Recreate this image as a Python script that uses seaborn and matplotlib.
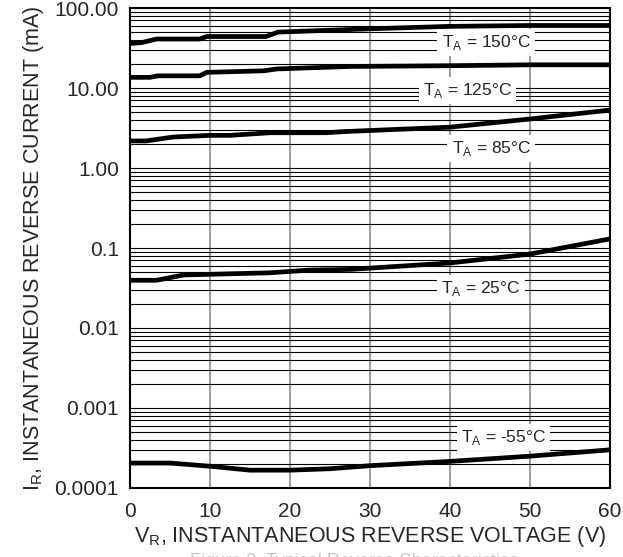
import numpy as np
import pandas as pd
import seaborn as sns
from matplotlib import pyplot as plt
from matplotlib.ticker import FixedLocator, LogLocator, NullFormatter

# Reverse current curves (V in volts, I in mA)
v_150 = [0, 1.5, 3.3, 8.7, 9.6, 17, 18.5, 30, 40, 50, 60]
i_150 = [36, 37, 41, 41, 44, 44, 50, 55, 59, 60.5, 60.5]

v_125 = [0, 2.5, 3.5, 8.7, 9.6, 16.7, 18.3, 27.5, 40, 50, 60]
i_125 = [13.6, 13.6, 14.2, 14.2, 15.7, 16.4, 17.3, 18.6, 19, 19.5, 19.5]

v_85 = [0, 2, 5.4, 10, 12.5, 17.5, 24.5, 27, 40, 50, 60]
i_85 = [2.18, 2.18, 2.44, 2.56, 2.56, 2.76, 2.76, 2.86, 3.24, 4.1, 5.3]

v_25 = [0, 3.3, 6.7, 17.5, 22.5, 27.5, 40, 50, 60]
i_25 = [0.0395, 0.0395, 0.046, 0.049, 0.053, 0.054, 0.065, 0.084, 0.13]

v_m55 = [0, 5, 10, 15, 20, 25, 30, 40, 50, 60]
i_m55 = [0.000205, 0.000205, 0.000187, 0.000167, 0.000167, 0.000174,
         0.00019, 0.000215, 0.00025, 0.0003]

curve_names = ["150", "125", "85", "25", "-55"]
curve_v = [v_150, v_125, v_85, v_25, v_m55]
curve_i = [i_150, i_125, i_85, i_25, i_m55]

# label text anchors (left, baseline) in data coords
label_v = [38.96, 36.67, 40.2, 38.9, 41.4]
label_i = [32.8, 8.18, 1.53, 0.0272, 0.000379]

y_ticks = [100, 10, 1, 0.1, 0.01, 0.001, 0.0001]
y_ticklabels = ["100.00", "10.00", "1.00", "0.1", "0.01", "0.001", "0.0001"]
x_ticks = [0, 10, 20, 30, 40, 50, 60]

sns.set_style("white")
plt.rcParams['font.family'] = ['Liberation Sans', 'DejaVu Sans']

fig = plt.figure(figsize=(6.23, 5.57), dpi=100)
ax = fig.add_axes([0.2087, 0.1239, 0.7703, 0.8617])

for name, v, i in zip(curve_names, curve_v, curve_i):
    df = pd.DataFrame({"V": v, "I": i})
    sns.lineplot(data=df, x="V", y="I", ax=ax, color="black",
                 linewidth=3.4, zorder=4, solid_capstyle="butt")

ax.set_yscale("log")
ax.set_xlim(0, 60)
ax.set_ylim(0.0001, 100)

ax.yaxis.set_major_locator(FixedLocator(y_ticks))
ax.set_yticklabels(y_ticklabels)
ax.yaxis.set_minor_locator(LogLocator(base=10, subs=np.arange(2, 10)))
ax.yaxis.set_minor_formatter(NullFormatter())
ax.set_xticks(x_ticks)

# grid: black horizontals, grey verticals
ax.grid(True, which="both", axis="y", color="black", linewidth=0.8, zorder=1)
ax.grid(True, which="major", axis="x", color="#808080", linewidth=1.1, zorder=1)
ax.set_axisbelow(True)

ax.tick_params(axis="both", which="both", length=0, labelsize=15)
ax.tick_params(axis="x", pad=10)
ax.tick_params(axis="y", pad=8)
for s in ax.spines.values():
    s.set_color("black")
    s.set_linewidth(1.5)

ax.set_xlabel(r"V$_\mathregular{R}$, INSTANTANEOUS REVERSE VOLTAGE (V)",
              fontsize=15.5, labelpad=2)
ax.set_ylabel(r"I$_\mathregular{R}$, INSTANTANEOUS REVERSE CURRENT (mA)",
              fontsize=15.5, labelpad=6)

for name, lv, li in zip(curve_names, label_v, label_i):
    ax.text(lv, li, r"T$_\mathregular{A}$ = " + name + "°C", fontsize=12.5,
            ha="left", va="baseline", zorder=5,
            bbox=dict(facecolor="white", edgecolor="none", pad=3))

fig.text(0.305, 0.008, "Figure 3. Typical Reverse Characteristics",
         fontsize=13, color="#c8c8c8", ha="left", va="top")

fig.savefig("out.png", dpi=100)
